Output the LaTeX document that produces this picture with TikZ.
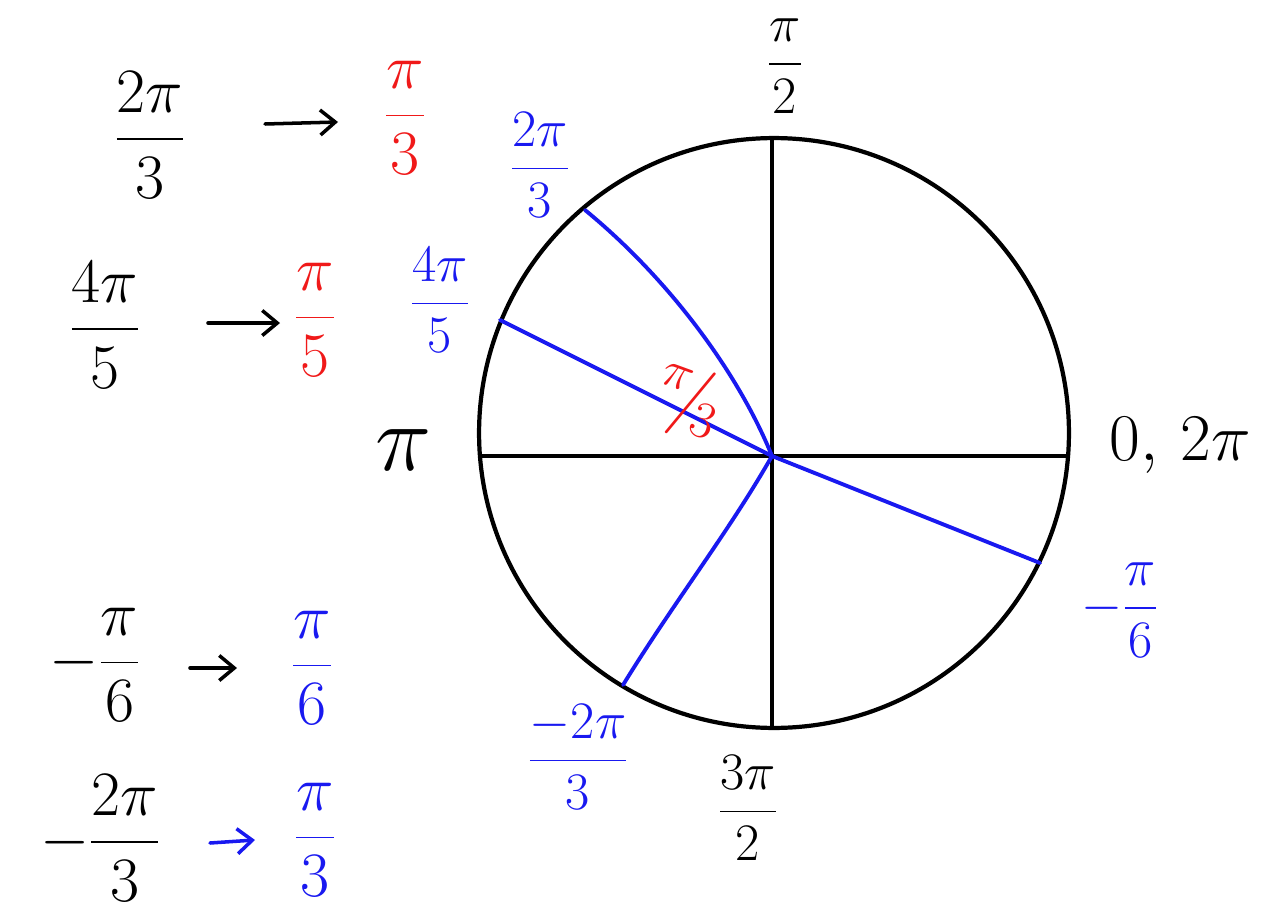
\documentclass[tikz,border=0pt]{standalone}
\usepackage{fix-cm}
\usepackage{amsmath}
\usepackage{xcolor}
\usetikzlibrary{arrows.meta}
\definecolor{penblue}{RGB}{25,25,240}
\definecolor{penred}{RGB}{240,25,25}

\begin{document}
\begin{tikzpicture}[
  x=0.02cm,y=-0.02cm,
  axis/.style={line width=2.4pt},
  ray/.style={penblue,line width=2.2pt,line cap=round},
  maparrow/.style={-{Straight Barb[length=3mm,width=5mm]},line width=2pt,
                   line cap=round},
  bigfrac/.style={font=\fontsize{36}{42}\selectfont,inner sep=0pt},
  tagfrac/.style={font=\fontsize{30}{36}\selectfont,inner sep=0pt},
  every node/.style={inner sep=0pt}
]
\useasboundingbox (0,0) rectangle (1282,916);

% unit circle and axes
\coordinate (Ctr) at (774,433);
\draw[axis] (Ctr) circle[radius=5.9cm];
\coordinate (O) at (772,456);
\coordinate (W) at (480,456);
\coordinate (E) at (1068,456);
\coordinate (N) at (772,138);
\coordinate (S) at (772,729);
\draw[axis] (W) -- (E);
\draw[axis] (N) -- (S);

% rays to the angles
\coordinate (p23) at (585,210);
\coordinate (p45) at (500,320);
\coordinate (pm6) at (1040,563);
\coordinate (pm23) at (623,685);
\draw[ray] (O) .. controls (738,372) and (668,278) .. (p23);
\draw[ray] (O) -- (p45);
\draw[ray] (O) -- (pm6);
\draw[ray] (O) .. controls (730,530) and (672,605) .. (pm23);

% axis labels
\node[tagfrac] (tHalf) at (785,66) {$\dfrac{\pi}{2}$};
\node[font=\fontsize{54}{60}\selectfont] (tPi) at (404,450) {$\pi$};
\node[font=\fontsize{38}{44}\selectfont] (tZero) at (1180,445) {$0,\,2\pi$};
\node[tagfrac] (tThree) at (748,808) {$\dfrac{3\pi}{2}$};

% angle labels
\node[tagfrac,penblue] (t23) at (540,165) {$\dfrac{2\pi}{3}$};
\node[tagfrac,penblue] (t45) at (440,300) {$\dfrac{4\pi}{5}$};
\node[tagfrac,penblue] (tm6) at (1120,610) {$-\dfrac{\pi}{6}$};
\node[tagfrac,penblue] (tm23) at (578,757) {$\dfrac{-2\pi}{3}$};
\node[font=\fontsize{42}{48}\selectfont,penred,rotate=-20] (tref) at (688,402)
  {$^{\pi}\!/\!_{3}$};

% reference angles
\node[bigfrac] (a1) at (150,135) {$\dfrac{2\pi}{3}$};
\node[bigfrac,penred] (b1) at (405,118) {$\dfrac{\pi}{3}$};
\coordinate (s1) at (265,124);
\coordinate (e1) at (338,122);
\draw[maparrow] (s1) -- (e1);

\node[bigfrac] (a2) at (105,325) {$\dfrac{4\pi}{5}$};
\node[bigfrac,penred] (b2) at (315,320) {$\dfrac{\pi}{5}$};
\coordinate (s2) at (208,323);
\coordinate (e2) at (280,323);
\draw[maparrow] (s2) -- (e2);

\node[bigfrac] (a3) at (95,665) {$-\dfrac{\pi}{6}$};
\node[bigfrac,penblue] (b3) at (312,668) {$\dfrac{\pi}{6}$};
\coordinate (s3) at (190,668);
\coordinate (e3) at (237,668);
\draw[maparrow] (s3) -- (e3);

\node[bigfrac] (a4) at (100,838) {$-\dfrac{2\pi}{3}$};
\node[bigfrac,penblue] (b4) at (315,840) {$\dfrac{\pi}{3}$};
\coordinate (s4) at (210,843);
\coordinate (e4) at (255,840);
\draw[maparrow,penblue] (s4) -- (e4);
\end{tikzpicture}
\end{document}
